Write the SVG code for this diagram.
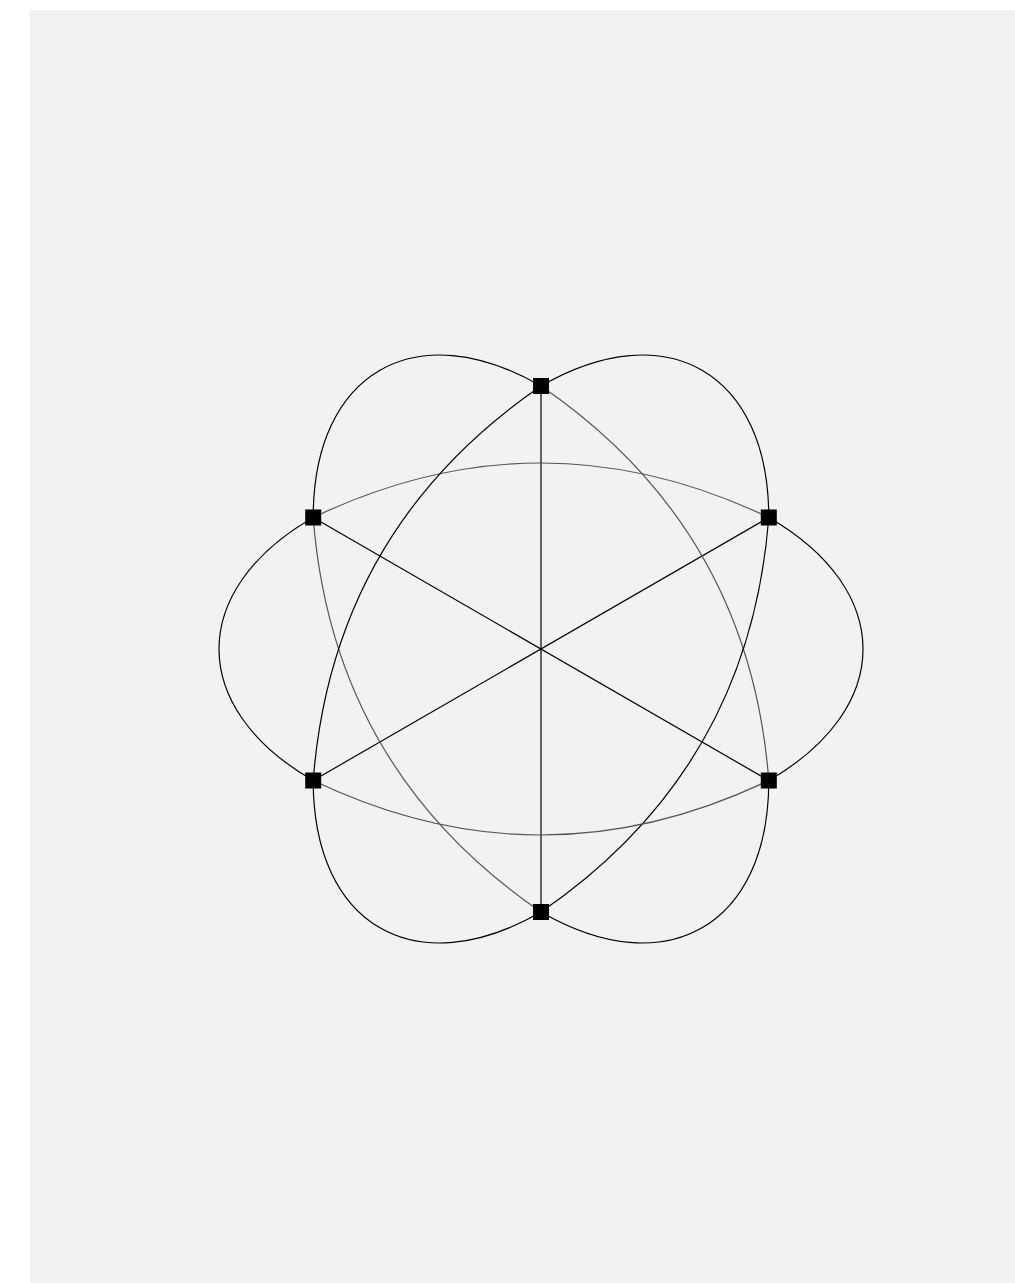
<svg xmlns="http://www.w3.org/2000/svg" width="1015" height="1283" viewBox="0 0 1015 1283">
<style>
.e{fill:none;stroke:#000;stroke-width:1.2}
.g{fill:none;stroke:#555;stroke-width:1.2}
.n{fill:#000}
</style>
<rect x="30" y="10" width="985" height="1273" fill="#f2f2f2"/>
<g id="connectors">
<path class="e" d="M541,386 L541,912"/>
<path class="e" d="M768.8,517.5 L313.2,780.5"/>
<path class="e" d="M768.8,780.5 L313.2,517.5"/>
<path class="g" d="M313.2,517.5 Q541,408.5 768.8,517.5"/>
<path class="g" d="M541,386 Q749.3,528.75 768.8,780.5"/>
<path class="e" d="M768.8,517.5 Q749.3,769.25 541,912"/>
<path class="g" d="M768.8,780.5 Q541,889.5 313.2,780.5"/>
<path class="g" d="M541,912 Q332.7,769.25 313.2,517.5"/>
<path class="e" d="M313.2,780.5 Q332.7,528.75 541,386"/>
<path class="e" d="M541,386 C666.6,313.5 768.8,372.5 768.8,517.5"/>
<path class="e" d="M768.8,517.5 C894.4,590 894.4,708 768.8,780.5"/>
<path class="e" d="M768.8,780.5 C768.8,925.5 666.6,984.5 541,912"/>
<path class="e" d="M541,912 C415.4,984.5 313.2,925.5 313.2,780.5"/>
<path class="e" d="M313.2,780.5 C187.6,708 187.6,590 313.2,517.5"/>
<path class="e" d="M313.2,517.5 C313.2,372.5 415.4,313.5 541,386"/>
</g>
<g id="n0"><rect class="n" x="533" y="378" width="16" height="16"/></g>
<g id="n1"><rect class="n" x="760.8" y="509.5" width="16" height="16"/></g>
<g id="n2"><rect class="n" x="760.8" y="772.5" width="16" height="16"/></g>
<g id="n3"><rect class="n" x="533" y="904" width="16" height="16"/></g>
<g id="n4"><rect class="n" x="305.2" y="772.5" width="16" height="16"/></g>
<g id="n5"><rect class="n" x="305.2" y="509.5" width="16" height="16"/></g>
</svg>
